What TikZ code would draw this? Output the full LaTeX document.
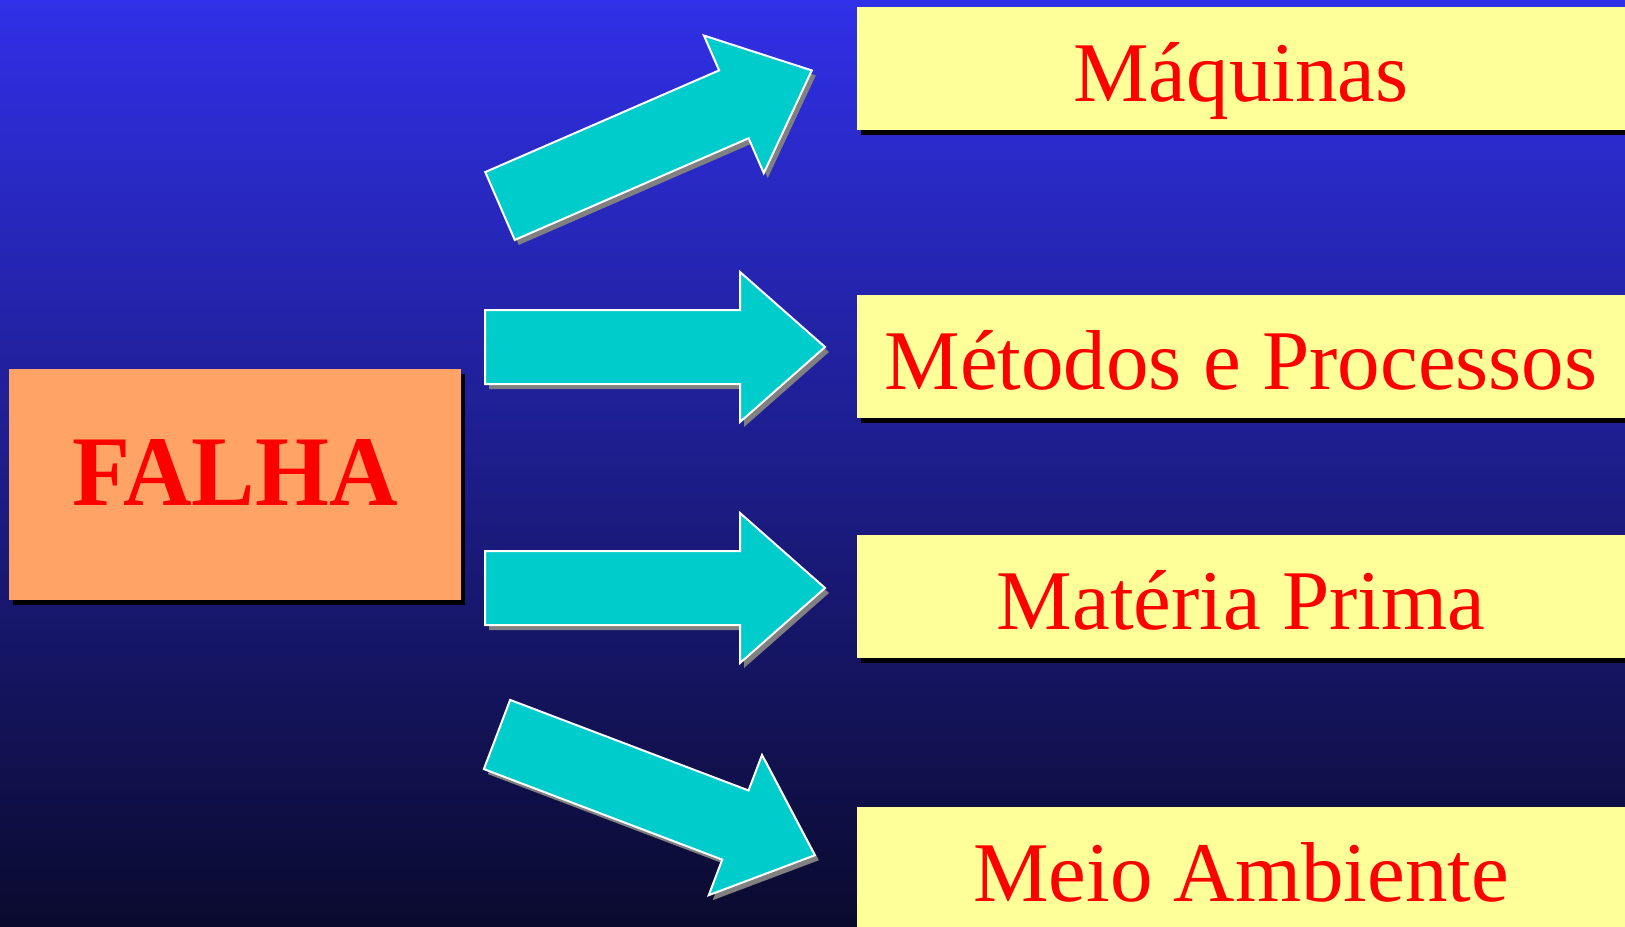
\documentclass[tikz,border=0pt]{standalone}
\usepackage{fontspec}
\setmainfont{Liberation Serif}
\newfontfamily\falhafont[FakeStretch=0.95]{Liberation Serif}
\usetikzlibrary{shadows}

\definecolor{bgtop}{RGB}{48,48,232}
\definecolor{bgbottom}{RGB}{10,10,46}
\definecolor{causeyellow}{RGB}{255,255,153}
\definecolor{falhaorange}{RGB}{255,163,102}
\definecolor{arrowcyan}{RGB}{0,204,204}
\definecolor{arrowshadow}{RGB}{128,128,128}

\tikzset{
  boxshadow/.style={drop shadow={fill=black, opacity=1, shadow xshift=2pt, shadow yshift=-2.5pt}},
  causebox/.style={boxshadow, fill=causeyellow, text=red, inner sep=0pt,
    minimum width=384pt, minimum height=61.5pt, text height=32.5pt, text depth=0pt,
    font=\fontsize{42.5}{50}\selectfont},
  falhabox/.style={boxshadow, fill=falhaorange, text=red, inner sep=0pt,
    minimum width=226pt, minimum height=115.5pt, text height=20.5pt, text depth=0pt,
    font=\falhafont\bfseries\fontsize{50}{60}\selectfont},
  bigarrow/.style={fill=arrowcyan, draw=white, line width=1pt, line join=miter}
}

\begin{document}
\begin{tikzpicture}[x=0.5pt, y=-0.5pt]
   \useasboundingbox (0,0) rectangle (1625,926);
   \shade[top color=bgtop, bottom color=bgbottom] (0,0) rectangle (1625,926);
   % failure box
   \node[falhabox] (falha) at (235,484.5) {FALHA};
   % the four arrows (tail middle x / y / angle)
   \foreach \x/\y/\a in {500/206/23.5, 485/347/0, 485/588/0, 497/734.5/-20.8}{
     \fill[arrowshadow, shift={(\x+4,\y+5)}, rotate=\a]
       (0,-37) -- (255,-37) -- (255,-75) -- (340,0) -- (255,75) -- (255,37) -- (0,37) -- cycle;
     \draw[bigarrow, shift={(\x,\y)}, rotate=\a]
       (0,-37) -- (255,-37) -- (255,-75) -- (340,0) -- (255,75) -- (255,37) -- (0,37) -- cycle;
   }
   % causes
   \node[causebox] (maq) at (1241,68.5) {Máquinas};
   \node[causebox] (met) at (1241,356.5) {Métodos e Processos};
   \node[causebox] (mat) at (1241,596.5) {Matéria Prima};
   \node[causebox] (amb) at (1241,868.5) {Meio Ambiente};
\end{tikzpicture}
\end{document}
